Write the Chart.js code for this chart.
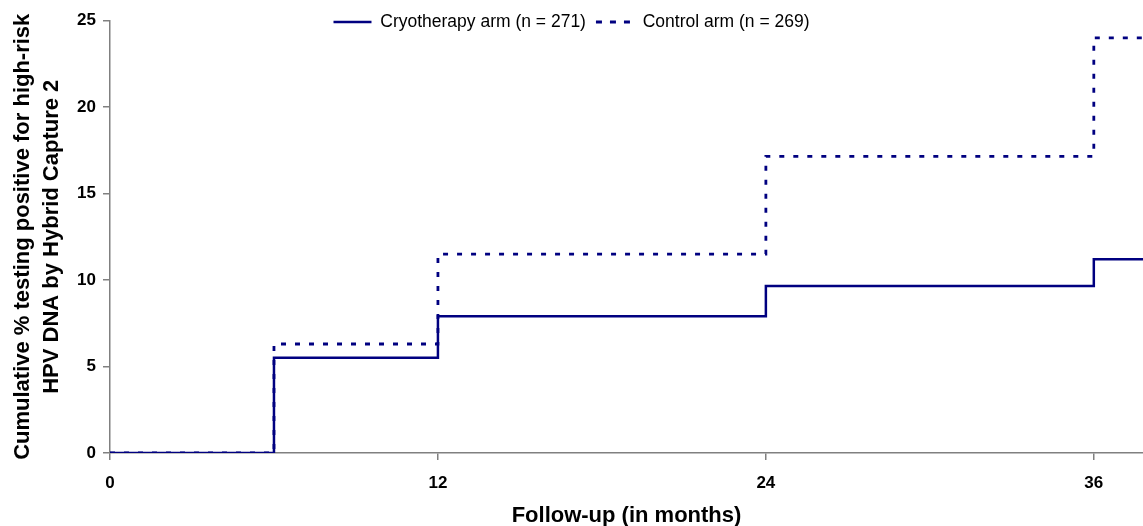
<!DOCTYPE html>
<html>
<head>
<meta charset="utf-8">
<script src="https://cdn.jsdelivr.net/npm/chart.js@4"></script>
<style>
  body { margin: 0; background: #fff; }
</style>
</head>
<body>
<canvas id="myChart" width="1143" height="526"></canvas>
<script>
let months = [0, 6, 12, 24, 36, 38];
let cryoValues = [0, 5.5, 7.9, 9.65, 11.2, 11.2];
let controlValues = [0, 6.3, 11.5, 17.15, 24, 24];
let seriesLabels = ['Cryotherapy arm (n = 271)', 'Control arm (n = 269)'];
let yTitle = ['Cumulative % testing positive for high-risk', 'HPV DNA by Hybrid Capture 2'];
let xTitle = 'Follow-up (in months)';

const navy = '#000080';
const axisGray = '#808080';
const fontFamily = '"Liberation Sans", Arial, sans-serif';

// the legend takes no room: the top padding is pulled back by its height,
// then the legend is moved down so it sits over the top of the plot
const legendShift = {
    id: 'legendShift',
    afterLayout(chart) {
        const lg = chart.legend;
        const h = lg.height;
        lg.top = 22 - h / 2;
        lg.bottom = lg.top + h;
    }
};

let ctx = document.getElementById('myChart').getContext('2d');

let chart = new Chart(ctx, {
    type: 'line',
    data: {
        datasets: [
            {
                label: seriesLabels[0],
                data: months.map((m, i) => ({ x: m, y: cryoValues[i] })),
                borderColor: navy,
                backgroundColor: navy,
                borderWidth: 2.5,
                stepped: 'before',
                pointRadius: 0,
                fill: false
            },
            {
                label: seriesLabels[1],
                data: months.map((m, i) => ({ x: m, y: controlValues[i] })),
                borderColor: navy,
                backgroundColor: navy,
                borderWidth: 2.8,
                borderDash: [5, 9],
                stepped: 'before',
                pointRadius: 0,
                fill: false
            }
        ]
    },
    options: {
        responsive: false,
        animation: false,
        layout: { padding: { left: 0, right: 0, top: 21 - 38, bottom: 0 } },
        plugins: {
            legend: {
                position: 'top',
                labels: {
                    // flat box: strokeRect with zero height draws the line sample (dashed too)
                    boxWidth: 38,
                    boxHeight: 0,
                    color: '#000',
                    padding: 10,
                    font: { family: fontFamily, size: 17.5 }
                }
            },
            tooltip: { enabled: false }
        },
        scales: {
            x: {
                type: 'linear',
                min: 0,
                max: 37.8,
                border: { color: axisGray, width: 1.5 },
                grid: { drawOnChartArea: false, color: axisGray, tickLength: 7, lineWidth: 1.5 },
                ticks: {
                    stepSize: 12,
                    includeBounds: false,
                    color: '#000',
                    padding: 13,
                    maxRotation: 0,
                    font: { family: fontFamily, size: 17, weight: 'bold' }
                },
                title: {
                    display: true,
                    text: xTitle,
                    color: '#000',
                    padding: { top: 0, bottom: -3 },
                    font: { family: fontFamily, size: 22, weight: 'bold' }
                },
                afterFit(scale) { scale.height = 73; }
            },
            y: {
                min: 0,
                max: 25,
                border: { color: axisGray, width: 1.5 },
                grid: { drawOnChartArea: false, color: axisGray, tickLength: 7, lineWidth: 1.5 },
                ticks: {
                    stepSize: 5,
                    color: '#000',
                    padding: 7,
                    font: { family: fontFamily, size: 17, weight: 'bold' }
                },
                title: {
                    display: true,
                    text: yTitle,
                    color: '#000',
                    padding: { top: 9, bottom: 0 },
                    font: { family: fontFamily, size: 22, weight: 'bold', lineHeight: 1.3 }
                },
                afterFit(scale) { scale.width = 110; }
            }
        }
    },
    plugins: [legendShift]
});
</script>
</body>
</html>
